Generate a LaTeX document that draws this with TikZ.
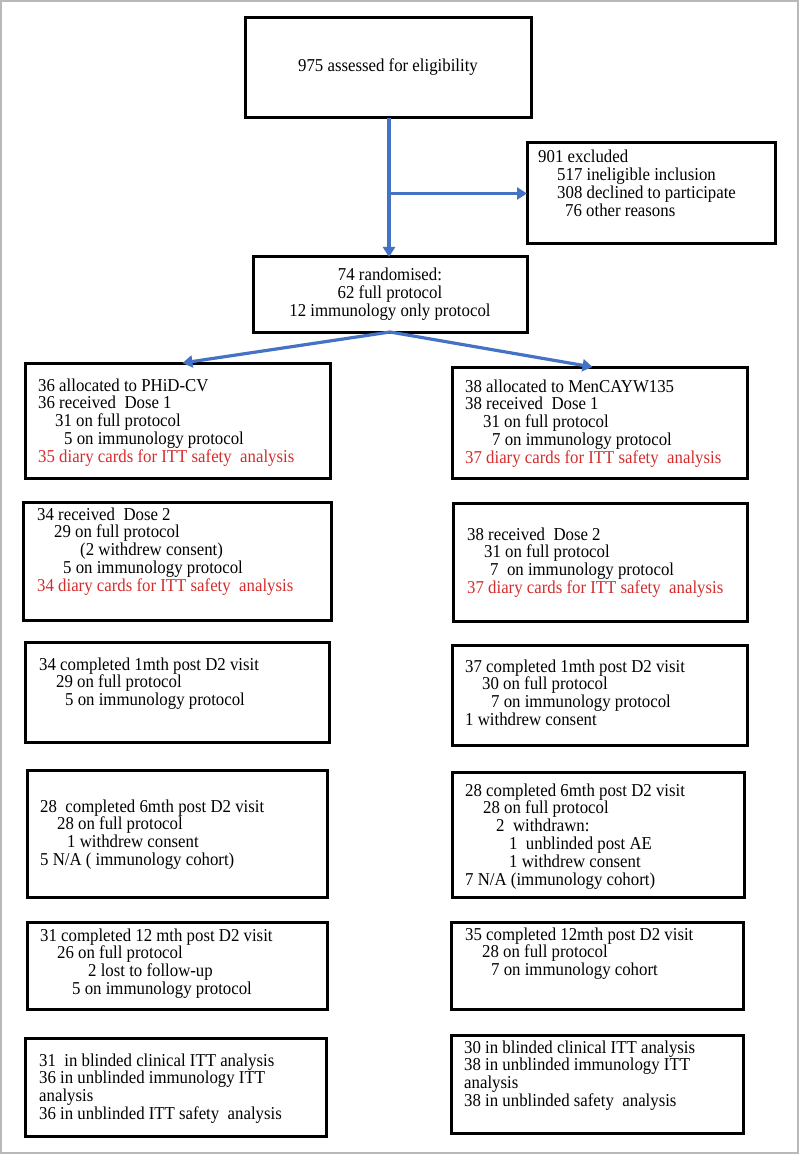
\documentclass[tikz,border=0pt]{standalone}
\usepackage{fontspec}
\usepackage{graphicx}
\setmainfont{Liberation Serif}
\usetikzlibrary{arrows.meta,calc}
\definecolor{flowblue}{RGB}{68,114,196}
\definecolor{diaryred}{RGB}{210,45,45}
\definecolor{framegray}{RGB}{185,185,185}
\newcommand{\blines}[1]{\scalebox{1}[1.08]{\fontsize{16.8pt}{16pt}\selectfont\begin{tabular}[t]{@{}l@{}}#1\end{tabular}}}
\newcommand{\clines}[1]{\scalebox{1}[1.08]{\fontsize{16.8pt}{16pt}\selectfont\begin{tabular}{@{}c@{}}#1\end{tabular}}}
\newcommand{\ind}[1]{\hspace*{#1pt}}
\begin{document}
\begin{tikzpicture}[x=1pt,y=-1pt,
  every node/.style={font=\fontsize{16.8pt}{17.3pt}\selectfont},
  flowbox/.style={draw=black, line width=3pt, inner sep=0pt, outer sep=0pt, anchor=north west},
  boxtext/.style={anchor=base west, inner sep=0pt},
  flowarrow/.style={draw=flowblue, line width=3.2pt, -{Triangle[width=12pt,length=10pt]}}]
\useasboundingbox (0,0) rectangle (800,1155);
\draw[framegray, line width=1.2pt] (1,1) rectangle (798,1153);

% top part
\node[flowbox, minimum width=286pt, minimum height=100pt] (assess) at (245,18) {\clines{975 assessed for eligibility}};
\node[flowbox, minimum width=248pt, minimum height=101pt] (excl) at (527,143) {};
\node[boxtext] (exclt) at (538,163) {\blines{901 excluded\\ \ind{19}517 ineligible inclusion\\ \ind{19}308 declined to participate\\ \ind{27}76 other reasons}};
\node[flowbox, minimum width=274pt, minimum height=75pt] (rand) at (253,257) {\clines{74 randomised:\\62 full protocol\\12 immunology only protocol}};

% left column
\node[flowbox, minimum width=305pt, minimum height=115pt] (L1) at (25,363) {};
\node[boxtext] (L1t) at (38,391) {\blines{36 allocated to PHiD-CV\\ 36 received\ \ Dose 1\\ \ind{17}31 on full protocol\\ \ind{26}5 on immunology protocol\\ \textcolor{diaryred}{35 diary cards for ITT safety\ \ analysis}}};
\node[flowbox, minimum width=308pt, minimum height=118pt] (L2) at (23,502) {};
\node[boxtext] (L2t) at (37,520) {\blines{34 received\ \ Dose 2\\ \ind{17}29 on full protocol\\ \ind{43}(2 withdrew consent)\\ \ind{26}5 on immunology protocol\\ \textcolor{diaryred}{34 diary cards for ITT safety\ \ analysis}}};
\node[flowbox, minimum width=304pt, minimum height=100pt] (L3) at (25,642) {};
\node[boxtext] (L3t) at (39,670) {\blines{34 completed 1mth post D2 visit\\ \ind{17}29 on full protocol\\ \ind{26}5 on immunology protocol}};
\node[flowbox, minimum width=300pt, minimum height=127pt] (L4) at (27,770) {};
\node[boxtext] (L4t) at (40,812) {\blines{28\ \ completed 6mth post D2 visit\\ \ind{17}28 on full protocol\\ \ind{27}1 withdrew consent\\ 5 N/A ( immunology cohort)}};
\node[flowbox, minimum width=300pt, minimum height=87pt] (L5) at (27,922) {};
\node[boxtext] (L5t) at (40,941) {\blines{31 completed 12 mth post D2 visit\\ \ind{17}26 on full protocol\\ \ind{48}2 lost to follow-up\\ \ind{32}5 on immunology protocol}};
\node[flowbox, minimum width=301pt, minimum height=98pt] (L6) at (25,1038) {};
\node[boxtext] (L6t) at (39,1066) {\blines{31\ \ in blinded clinical ITT analysis\\ 36 in unblinded immunology ITT\\ analysis\\ 36 in unblinded ITT safety\ \ analysis}};

% right column
\node[flowbox, minimum width=295pt, minimum height=111pt] (R1) at (452,367) {};
\node[boxtext] (R1t) at (465,392) {\blines{38 allocated to MenCAYW135\\ 38 received\ \ Dose 1\\ \ind{18}31 on full protocol\\ \ind{27}7 on immunology protocol\\ \textcolor{diaryred}{37 diary cards for ITT safety\ \ analysis}}};
\node[flowbox, minimum width=294pt, minimum height=118pt] (R2) at (453,503) {};
\node[boxtext] (R2t) at (467,540) {\blines{38 received\ \ Dose 2\\ \ind{17}31 on full protocol\\ \ind{23}7\ \ on immunology protocol\\ \textcolor{diaryred}{37 diary cards for ITT safety\ \ analysis}}};
\node[flowbox, minimum width=295pt, minimum height=100pt] (R3) at (452,645) {};
\node[boxtext] (R3t) at (465,672) {\blines{37 completed 1mth post D2 visit\\ \ind{17}30 on full protocol\\ \ind{26}7 on immunology protocol\\ 1 withdrew consent}};
\node[flowbox, minimum width=292pt, minimum height=125pt] (R4) at (452,772) {};
\node[boxtext] (R4t) at (465,796) {\blines{28 completed 6mth post D2 visit\\ \ind{18}28 on full protocol\\ \ind{31}2\ \ withdrawn:\\ \ind{44}1\ \ unblinded post AE\\ \ind{44}1 withdrew consent\\ 7 N/A (immunology cohort)}};
\node[flowbox, minimum width=292pt, minimum height=87pt] (R5) at (451,922) {};
\node[boxtext] (R5t) at (465,940) {\blines{35 completed 12mth post D2 visit\\ \ind{17}28 on full protocol\\ \ind{26}7 on immunology cohort}};
\node[flowbox, minimum width=292pt, minimum height=98pt] (R6) at (451,1035) {};
\node[boxtext] (R6t) at (464,1053) {\blines{30 in blinded clinical ITT analysis\\ 38 in unblinded immunology ITT\\ analysis\\ 38 in unblinded safety\ \ analysis}};

% connectors
\coordinate (top) at ([xshift=1pt]assess.south);
\coordinate (branch) at (top |- excl.west);
\draw[flowarrow] (top) -- (top |- rand.north);
\draw[flowarrow] (branch) -- (excl.west);
\draw[flowarrow] (rand.south) -- ([xshift=5pt]L1.north);
\draw[flowarrow] (rand.south) -- ([xshift=-7pt]R1.north);
\end{tikzpicture}
\end{document}
